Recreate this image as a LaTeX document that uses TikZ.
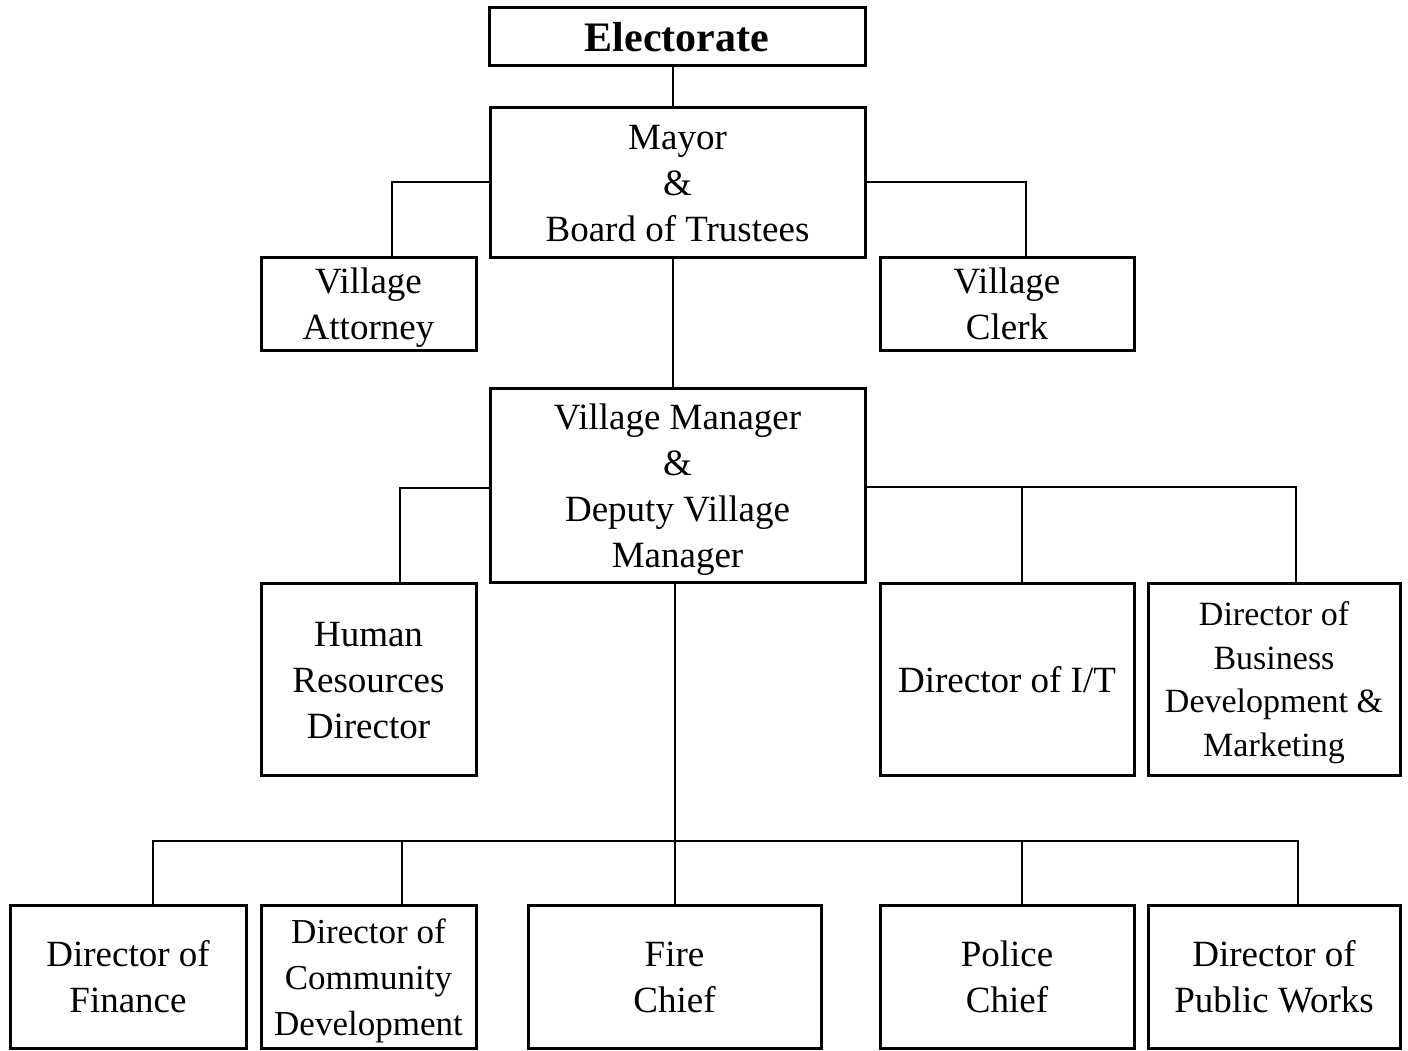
\documentclass[tikz,border=0pt]{standalone}
\usepackage{fontspec}
\setmainfont{Liberation Serif}
\newcommand\tl[1]{\vphantom{Ay}\rule{0pt}{0.93em}#1}
\begin{document}
\begin{tikzpicture}[x=1pt,y=-1pt,
  box/.style={draw,line width=3pt,inner sep=0pt,align=center,font=\fontsize{37}{46}\selectfont},
  conn/.style={line width=1.8pt}]
\useasboundingbox[fill=white] (0,0) rectangle (1408,1050);
\node[box,minimum width=376,minimum height=58,font=\fontsize{42}{46}\selectfont\bfseries] (elect) at (677,36) {\tl{Electorate}};
\node[box,minimum width=375,minimum height=150] (mayor) at (677.5,182) {\tl{Mayor}\\\&\\\tl{Board of Trustees}};
\node[box,minimum width=215,minimum height=93] (att) at (368.5,303.5) {\tl{Village}\\\tl{Attorney}};
\node[box,minimum width=254,minimum height=93] (clerk) at (1007,303.5) {\tl{Village}\\\tl{Clerk}};
\node[box,minimum width=375,minimum height=194] (mgr) at (677.5,485) {\tl{Village Manager}\\\&\\Deputy Village\\\tl{Manager}};
\node[box,minimum width=215,minimum height=192] (hr) at (368.5,679) {\tl{Human}\\Resources\\\tl{Director}};
\node[box,minimum width=254,minimum height=192] (it) at (1007,679) {\tl{Director of I/T}};
\node[box,minimum width=252,minimum height=192,font=\fontsize{34}{43.5}\selectfont] (bdm) at (1274,679) {\tl{Director of}\\Business\\Development \&\\\tl{Marketing}};
\node[box,minimum width=236,minimum height=143] (fin) at (128,976.5) {\tl{Director of}\\\tl{Finance}};
\node[box,minimum width=215,minimum height=143,font=\fontsize{35}{46}\selectfont] (com) at (368.5,976.5) {\tl{Director of}\\Community\\\tl{Development}};
\node[box,minimum width=293,minimum height=143] (fire) at (674.5,976.5) {\tl{Fire}\\\tl{Chief}};
\node[box,minimum width=254,minimum height=143] (police) at (1007,976.5) {\tl{Police}\\\tl{Chief}};
\node[box,minimum width=252,minimum height=143] (pw) at (1274,976.5) {\tl{Director of}\\\tl{Public Works}};
% connector anchor points
\coordinate (itn) at ([xshift=15]it.north);
\coordinate (mgre) at ([yshift=-2]mgr.east);
\coordinate (busy) at (0,841);
\coordinate (finn) at ([xshift=25]fin.north);
\coordinate (comn) at ([xshift=33.5]com.north);
\coordinate (poln) at ([xshift=15]police.north);
\coordinate (firen) at ([xshift=0.5]fire.north);
% connectors
\draw[conn] (elect.south -| 673,0) -- (mayor.north -| 673,0);
\draw[conn] (mayor.west) -| ([xshift=23.5]att.north);
\draw[conn] (mayor.east) -| ([xshift=19]clerk.north);
\draw[conn] (mayor.south -| 673,0) -- (mgr.north -| 673,0);
\draw[conn] ([yshift=-3]mgr.west) -| ([xshift=31.5]hr.north);
\draw[conn] (mgre) -| ([xshift=22]bdm.north);
\draw[conn] (mgre -| itn) -- (itn);
\draw[conn] (mgr.south -| firen) -- (firen);
\draw[conn] (finn) -- (finn |- busy) -| ([xshift=24]pw.north);
\draw[conn] (comn) -- (comn |- busy);
\draw[conn] (poln) -- (poln |- busy);
\end{tikzpicture}
\end{document}
